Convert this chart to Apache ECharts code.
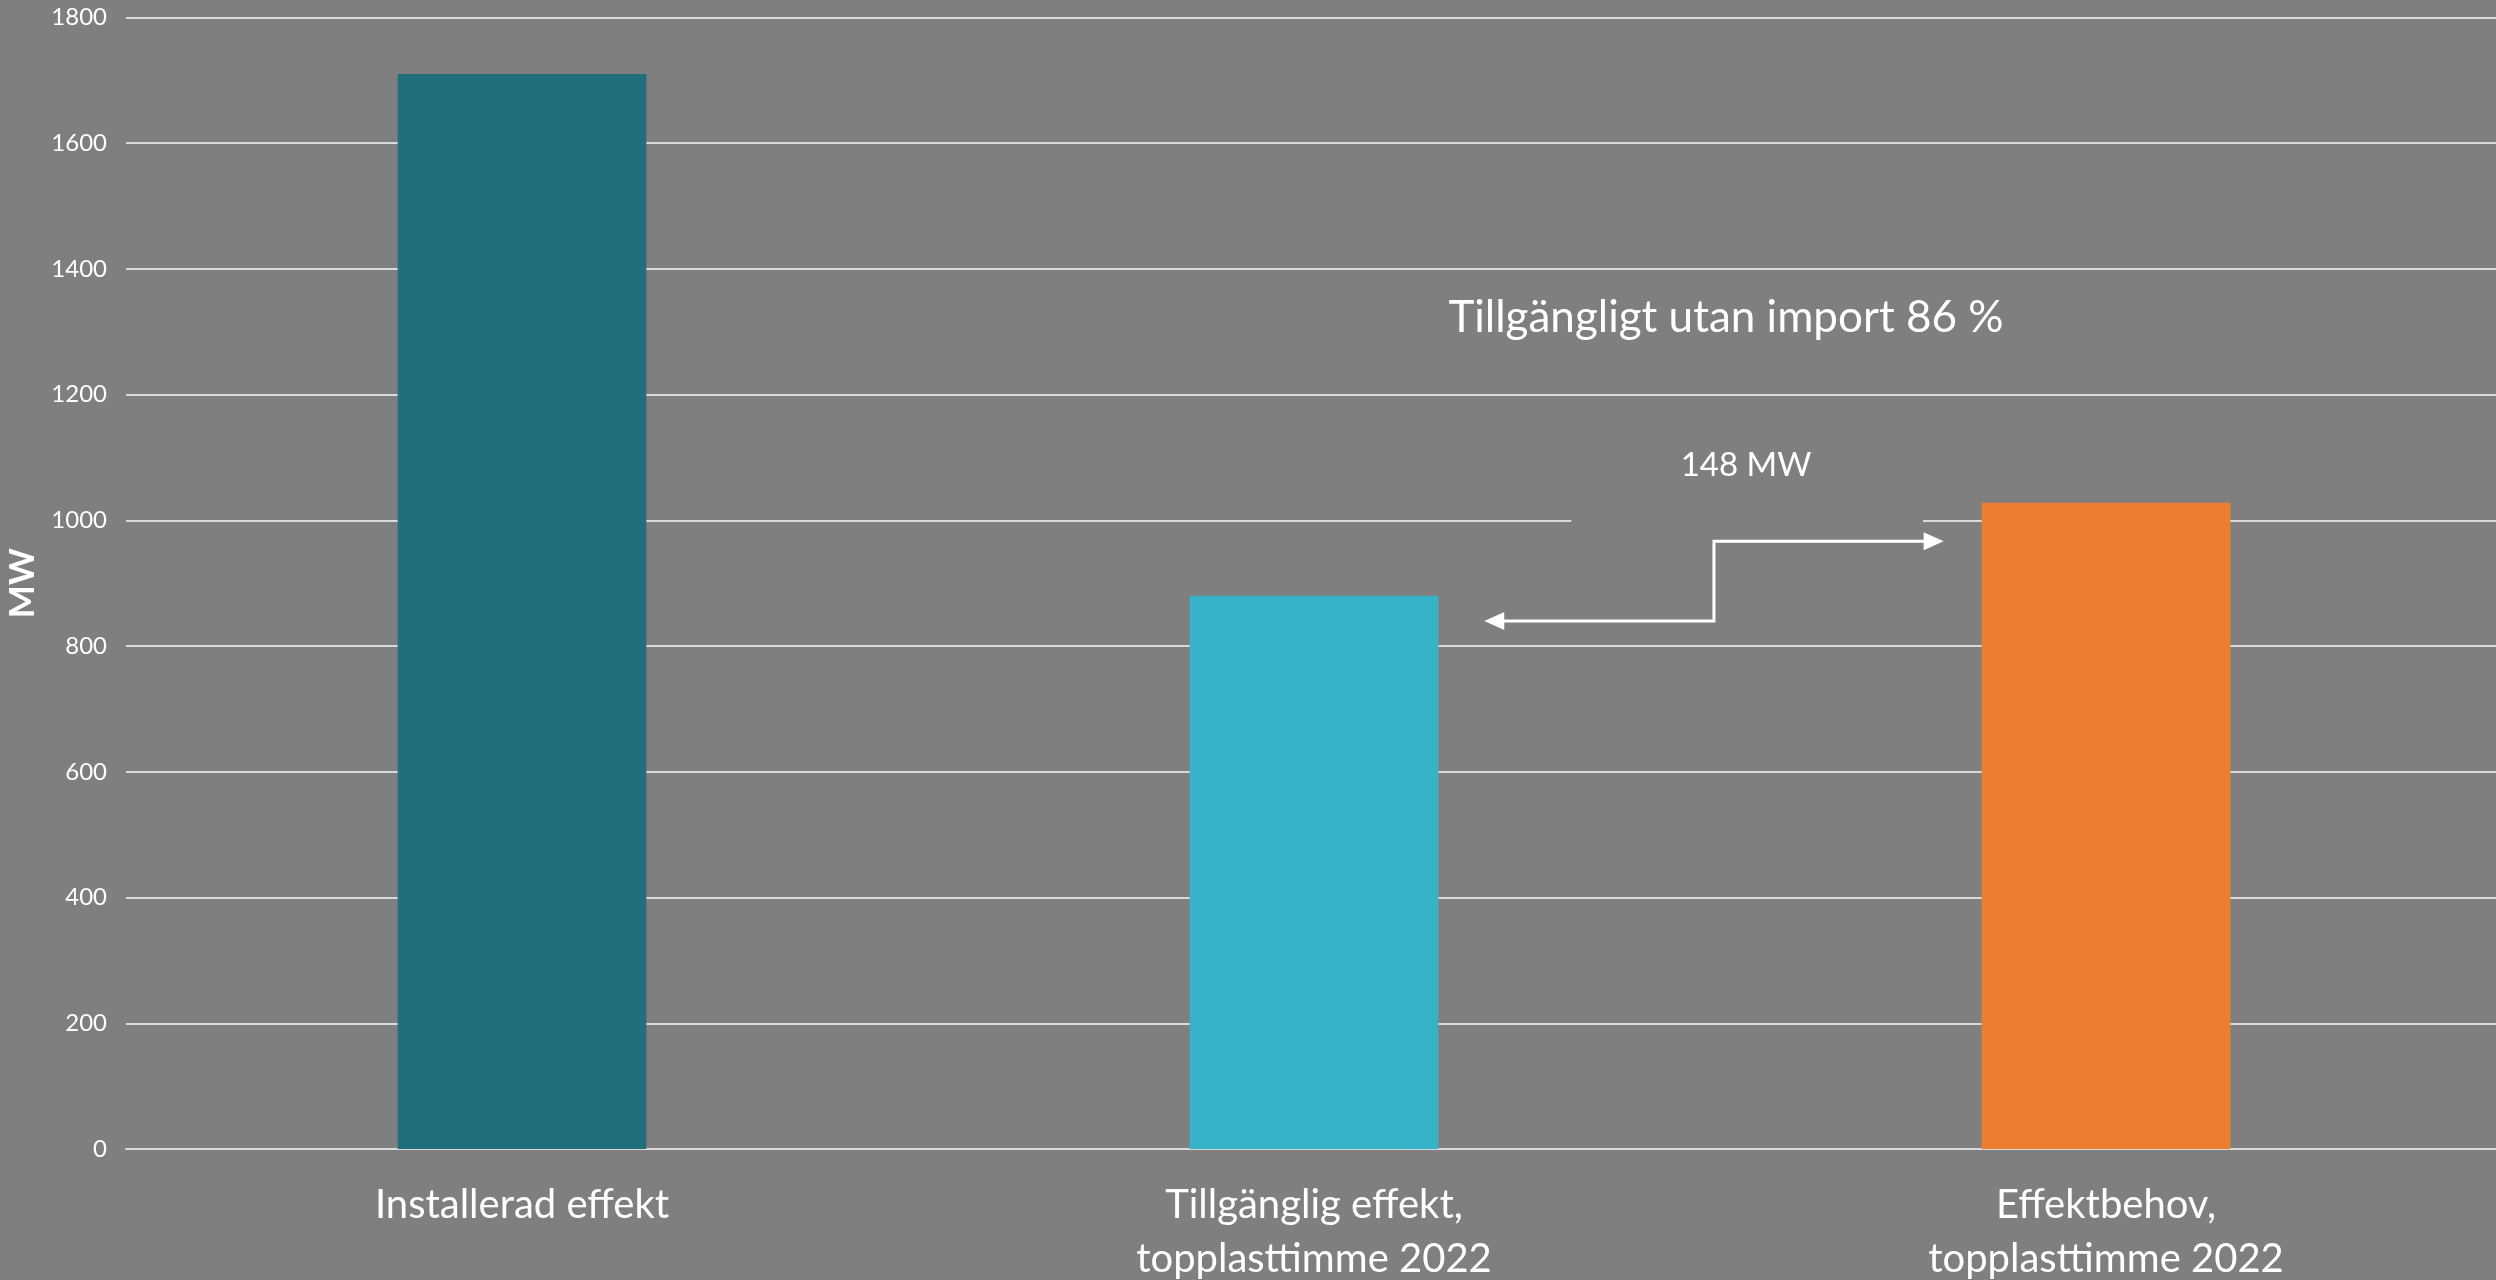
<!DOCTYPE html>
<html>
<head>
<meta charset="utf-8">
<script src="https://cdn.jsdelivr.net/npm/echarts@6/dist/echarts.min.js"></script>
<style>
  html, body { margin: 0; padding: 0; background: #7f7f7f; }
  #chart { width: 2496px; height: 1280px; }
</style>
</head>
<body>
<div id="chart"></div>
<script>
// Power balance at the 2022 peak-load hour (MW)
const categories = [
  'Installerad effekt',
  'Tillgänglig effekt,\ntopplasttimme 2022',
  'Effektbehov,\ntopplasttimme 2022'
];
const values = [1710, 880, 1028];
const barColors = ['#216f7b', '#37b3c9', '#ed7d31'];
const yMin = 0, yMax = 1800, yStep = 200;

// Elbow bracket between the available and demand bars: levels in MW,
// horizontal anchors as fractions of the way from category 1 to category 2
const bracketLevels = [840, 967];
const bracketX = [0.215, 0.505, 0.795];
// Box behind the gap label (hides the grid line it sits on)
const labelBoxX = [0.325, 0.769];
const labelBoxLevel = 1000;

const available = values[1];
const demand = values[2];
const gapMW = demand - available;
const sharePct = Math.round(available / demand * 100);

const FONT = 'Lato, "Open Sans", sans-serif';
const chart = echarts.init(document.getElementById('chart'), null, { renderer: 'canvas' });

chart.setOption({
  backgroundColor: '#7f7f7f',
  animation: false,
  grid: { left: 126, right: -6, top: 17.5, bottom: 131, containLabel: false, outerBoundsMode: 'none' },
  xAxis: {
    type: 'category',
    data: categories,
    axisLine: { show: true, lineStyle: { color: '#d9d9d9', width: 2 } },
    axisTick: { show: false },
    axisLabel: {
      color: '#ffffff', fontFamily: FONT, fontSize: 40, lineHeight: 54,
      margin: 29, interval: 0
    },
    splitLine: { show: false }
  },
  yAxis: {
    type: 'value',
    min: yMin, max: yMax, interval: yStep,
    name: 'MW',
    nameLocation: 'middle',
    nameRotate: 90,
    nameGap: 85,
    nameTextStyle: { color: '#ffffff', fontFamily: FONT, fontSize: 35, fontWeight: 'bold' },
    axisLine: { show: false },
    axisTick: { show: false },
    axisLabel: {
      color: '#ffffff', fontFamily: FONT, fontSize: 24, margin: 19,
      formatter: (v) => String(v)
    },
    splitLine: { show: true, lineStyle: { color: '#d9d9d9', width: 2 } }
  },
  series: [{
    type: 'bar',
    barWidth: '31.4%',
    data: values.map((v, i) => ({ value: v, itemStyle: { color: barColors[i] } })),
    z: 3
  }]
});

// Annotations placed through the chart's own coordinate system
const c1 = chart.convertToPixel({ gridIndex: 0 }, [1, 0])[0];
const c2 = chart.convertToPixel({ gridIndex: 0 }, [2, 0])[0];
const xAt = (f) => c1 + f * (c2 - c1);
const yAt = (v) => chart.convertToPixel({ gridIndex: 0 }, [0, v])[1];

const pLeft = [xAt(bracketX[0]), yAt(bracketLevels[0])];
const pMidLow = [xAt(bracketX[1]), yAt(bracketLevels[0])];
const pMidHigh = [xAt(bracketX[1]), yAt(bracketLevels[1])];
const pRight = [xAt(bracketX[2]), yAt(bracketLevels[1])];
const boxL = xAt(labelBoxX[0]);
const boxR = xAt(labelBoxX[1]);
const boxY = yAt(labelBoxLevel);

const headLen = 20, headHalf = 9;
const white = '#ffffff';

chart.setOption({
  graphic: [
    {
      type: 'rect', z: 1, silent: true,
      shape: { x: boxL, y: boxY - 8, width: boxR - boxL, height: 16 },
      style: { fill: '#7f7f7f' }
    },
    {
      type: 'polyline', z: 10, silent: true,
      shape: { points: [
        [pLeft[0] + headLen - 2, pLeft[1]], pMidLow, pMidHigh, [pRight[0] - headLen + 2, pRight[1]]
      ] },
      style: { stroke: white, lineWidth: 3, fill: null }
    },
    {
      type: 'polygon', z: 10, silent: true,
      shape: { points: [[pLeft[0], pLeft[1]], [pLeft[0] + headLen, pLeft[1] - headHalf], [pLeft[0] + headLen, pLeft[1] + headHalf]] },
      style: { fill: white }
    },
    {
      type: 'polygon', z: 10, silent: true,
      shape: { points: [[pRight[0], pRight[1]], [pRight[0] - headLen, pRight[1] - headHalf], [pRight[0] - headLen, pRight[1] + headHalf]] },
      style: { fill: white }
    },
    {
      type: 'text', z: 10, silent: true,
      x: 1746, y: 465,
      style: { text: gapMW + ' MW', fill: white, font: '33px ' + FONT, textAlign: 'center', textVerticalAlign: 'middle' }
    },
    {
      type: 'text', z: 10, silent: true,
      x: 1726, y: 318,
      style: { text: 'Tillgängligt utan import ' + sharePct + ' %', fill: white, font: '44px ' + FONT, textAlign: 'center', textVerticalAlign: 'middle' }
    }
  ]
});
</script>
</body>
</html>
